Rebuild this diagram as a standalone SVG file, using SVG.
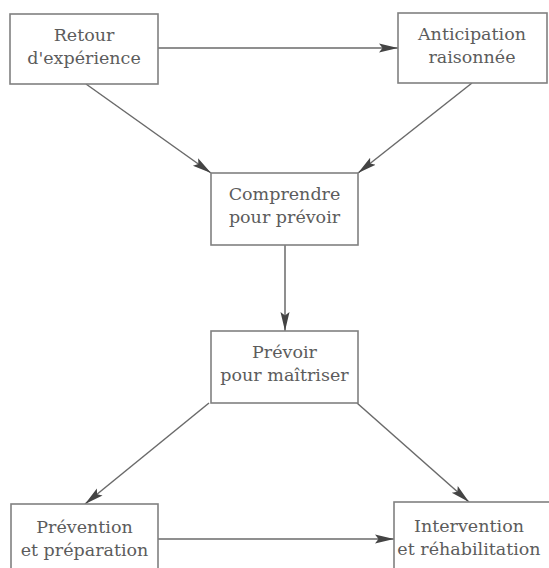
<svg xmlns="http://www.w3.org/2000/svg" width="549" height="568" viewBox="0 0 549 568">
<defs>
<style>
.box{fill:#fff;stroke:#808080;stroke-width:1.6}
.lbl{font-family:"DejaVu Serif","Liberation Serif",serif;font-size:17.5px;fill:#5c5c5c;text-anchor:middle}
.edge{stroke:#6a6a6a;stroke-width:1.5;fill:none;marker-end:url(#ah)}
</style>
<marker id="ah" markerUnits="userSpaceOnUse" markerWidth="20" markerHeight="12" refX="19" refY="6" orient="auto">
<path d="M0,1.5 L19,6 L0,10.5 L3.5,6 Z" fill="#444"/>
</marker>
</defs>
<rect width="549" height="568" fill="#fff"/>
<g id="connectors">
<line class="edge" x1="158" y1="48" x2="398" y2="48"/>
<line class="edge" x1="86" y1="84" x2="211" y2="173"/>
<line class="edge" x1="472" y1="83" x2="358" y2="173"/>
<line class="edge" x1="285" y1="245" x2="285" y2="331"/>
<line class="edge" x1="209" y1="403" x2="85" y2="504"/>
<line class="edge" x1="357" y1="403" x2="469" y2="502"/>
<line class="edge" x1="158" y1="539" x2="394" y2="539"/>
</g>
<g id="retour">
<rect class="box" x="10" y="14" width="148" height="70"/>
<text class="lbl" x="84" y="41">Retour</text>
<text class="lbl" x="84" y="64">d'expérience</text>
</g>
<g id="anticipation">
<rect class="box" x="398" y="13" width="149" height="70"/>
<text class="lbl" x="472" y="40">Anticipation</text>
<text class="lbl" x="472" y="63">raisonnée</text>
</g>
<g id="comprendre">
<rect class="box" x="211" y="173" width="147" height="72"/>
<text class="lbl" x="284.5" y="200">Comprendre</text>
<text class="lbl" x="284.5" y="223">pour prévoir</text>
</g>
<g id="prevoir">
<rect class="box" x="211" y="331" width="147" height="72"/>
<text class="lbl" x="284.5" y="358">Prévoir</text>
<text class="lbl" x="284.5" y="381">pour maîtriser</text>
</g>
<g id="prevention">
<rect class="box" x="11" y="504" width="147" height="72"/>
<text class="lbl" x="84.5" y="533">Prévention</text>
<text class="lbl" x="84.5" y="556">et préparation</text>
</g>
<g id="intervention">
<rect class="box" x="394" y="502" width="170" height="74"/>
<text class="lbl" x="469" y="532">Intervention</text>
<text class="lbl" x="469" y="555">et réhabilitation</text>
</g>
</svg>
